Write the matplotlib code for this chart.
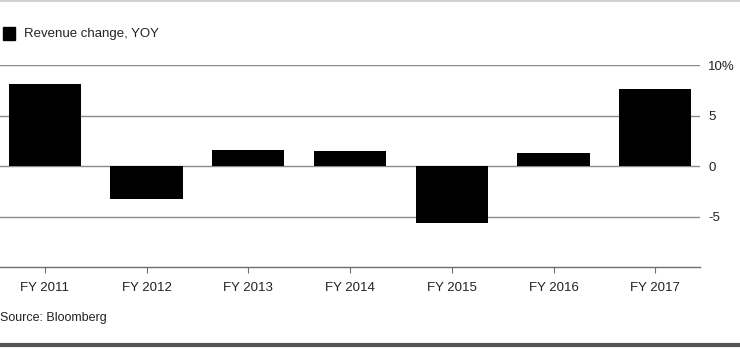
import matplotlib
matplotlib.use("Agg")
import matplotlib.pyplot as plt
from matplotlib.lines import Line2D
from matplotlib.patches import Rectangle

# Datos
years = ["FY 2011", "FY 2012", "FY 2013", "FY 2014", "FY 2015", "FY 2016", "FY 2017"]
revenue_change = [8.1, -3.3, 1.6, 1.5, -5.6, 1.3, 7.6]
y_ticks = [-5, 0, 5, 10]
y_tick_labels = ["-5", "0", "5", "10%"]

plt.rcParams['font.family'] = ['Liberation Sans', 'DejaVu Sans']

fig = plt.figure(figsize=(7.4, 3.5), dpi=100)
ax = fig.add_axes([0.0, 0.237, 0.946, 0.577])

x = range(len(years))
ax.bar(x, revenue_change, width=0.71, color='black', zorder=3)

ax.set_xlim(-0.44, 6.44)
ax.set_ylim(-10, 10)
ax.set_yticks(y_ticks)
ax.set_yticklabels(y_tick_labels)
ax.set_xticks(list(x))
ax.set_xticklabels(years)
ax.yaxis.tick_right()
ax.grid(axis='y', color='#8a8a8a', linewidth=1.0, zorder=0)

for s in ['top', 'left', 'right']:
    ax.spines[s].set_visible(False)
ax.spines['bottom'].set_color('#6e6e6e')
ax.spines['bottom'].set_linewidth(1.0)

ax.tick_params(axis='y', length=0, pad=6, labelsize=9.5, labelcolor='#222222')
ax.tick_params(axis='x', length=4, color='#6e6e6e', pad=7, labelsize=9.5, labelcolor='#222222')

# Leyenda
fig.patches.append(Rectangle((3 / 740, 1 - 40 / 350), 12 / 740, 13 / 350,
                             transform=fig.transFigure, color='black'))
fig.text(24 / 740, 1 - 34 / 350, "Revenue change, YOY", fontsize=9.5,
         va='center', ha='left', color='#222222')

# Fuente
fig.text(0, 1 - 318 / 350, "Source: Bloomberg", fontsize=9, va='center',
         ha='left', color='#222222')

# Bordes
fig.lines.append(Line2D([0, 1], [0.997, 0.997], transform=fig.transFigure,
                        color='#c8c8c8', linewidth=1.2))
fig.lines.append(Line2D([0, 1], [1 - 345 / 350, 1 - 345 / 350], transform=fig.transFigure,
                        color='#555555', linewidth=3))

fig.savefig("out.png", dpi=100)
